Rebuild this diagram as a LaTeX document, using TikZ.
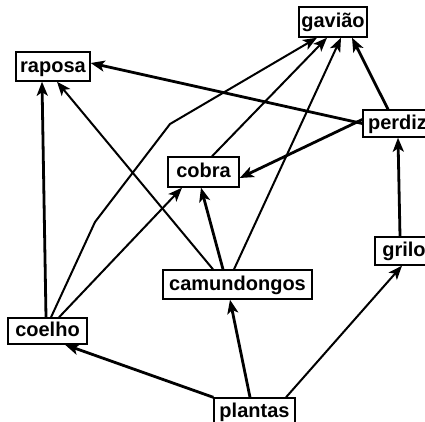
\documentclass[tikz,border=0pt]{standalone}
\usepackage{fontspec}
\setmainfont{Liberation Sans}
\usetikzlibrary{arrows.meta}
\begin{document}
\begin{tikzpicture}[x=1pt,y=-1pt,
  species/.style={draw=black,line width=1.4pt,fill=white,inner sep=0pt,
    text height=15pt,text depth=4pt,
    font=\fontsize{20}{23}\selectfont\bfseries},
  feeds/.style={line width=2.8pt,-{Stealth[length=14pt,width=11pt,inset=3.5pt]}},
  feedsthin/.style={line width=2pt,-{Stealth[length=14pt,width=11pt,inset=3.5pt]}}]
\clip (0,0) rectangle (425,421);
\fill[white] (0,0) rectangle (425,421);

% species boxes
\node[species,minimum width=68pt,minimum height=30pt] (gaviao) at (333,22) {gavião};
\node[species,minimum width=74pt,minimum height=29pt] (raposa) at (53,66.5) {raposa};
\node[species,minimum width=69pt,minimum height=27pt] (perdiz) at (397.5,123.5) {perdiz};
\node[species,minimum width=71pt,minimum height=30pt] (cobra) at (203.5,172) {cobra};
\node[species,minimum width=58pt,minimum height=28pt] (grilo) at (404,251) {grilo};
\node[species,minimum width=149pt,minimum height=29pt] (camundongos) at (237.5,284.5) {camundongos};
\node[species,minimum width=79pt,minimum height=26pt] (coelho) at (47.5,331) {coelho};
\node[species,minimum width=81pt,minimum height=28pt] (plantas) at (254.5,412) {plantas};

% who is eaten by whom
\draw[feeds] (perdiz.west) -- ([yshift=3.5pt]raposa.east);
\draw[feeds] ([xshift=-9.5pt]perdiz.north) -- ([xshift=19pt]gaviao.south);
\draw[feeds] ([yshift=4pt]perdiz.west) -- ([yshift=-6pt]cobra.east);
\draw[feeds] ([xshift=-4pt]grilo.north) -- ([xshift=0.5pt]perdiz.south);
\draw[feedsthin] ([xshift=31.5pt]plantas.north) -- ([xshift=-2pt]grilo.south);
\draw[feeds] ([xshift=-4.5pt]plantas.north) -- ([xshift=-7.5pt]camundongos.south);
\draw[feeds] (plantas.north west) -- ([xshift=17.5pt]coelho.south);
\draw[feeds] ([xshift=-1.5pt]coelho.north) -- ([xshift=-11pt]raposa.south);
\draw[feedsthin] ([xshift=3.5pt]coelho.north) -- (95,222) -- (170,124) -- ([xshift=-16pt]gaviao.south);
\draw[feedsthin] ([xshift=11.5pt]coelho.north) -- ([xshift=-21.5pt]cobra.south);
\draw[feedsthin] ([xshift=-24.5pt]camundongos.north) -- ([xshift=4pt]raposa.south);
\draw[feedsthin] ([xshift=8.5pt]cobra.north) -- ([xshift=-6pt]gaviao.south);
\draw[feedsthin] ([xshift=-3.5pt]camundongos.north) -- ([xshift=8pt]gaviao.south);
\draw[feeds] ([xshift=-14.5pt]camundongos.north) -- ([xshift=-2.5pt]cobra.south);
\end{tikzpicture}
\end{document}
